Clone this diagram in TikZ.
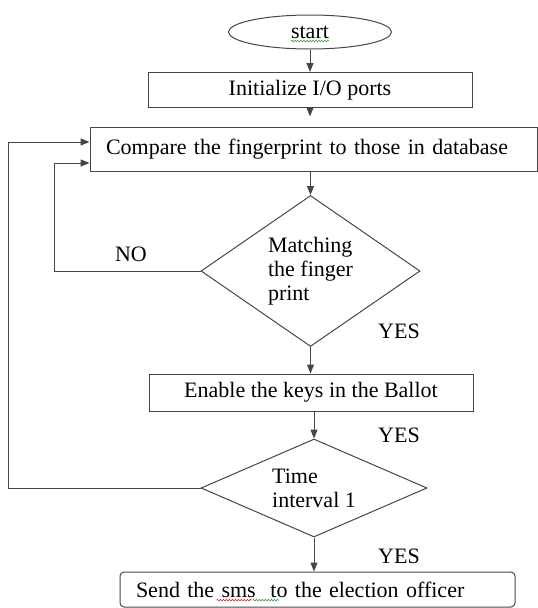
\documentclass[tikz,border=0pt]{standalone}
\usepackage{fontspec}
\setmainfont{Liberation Serif}
\usetikzlibrary{positioning,arrows.meta,shapes.geometric,decorations.pathmorphing}
\definecolor{lineg}{RGB}{70,70,70}
\definecolor{spellred}{RGB}{220,40,40}
\definecolor{spellgreen}{RGB}{60,160,60}

\begin{document}
\begin{tikzpicture}[x=1pt, y=-1pt, font=\fontsize{22}{24}\selectfont,
    >={Triangle[length=9pt,width=7pt]},
    box/.style={draw=lineg, line width=1pt, inner sep=0pt, align=center},
    oval/.style={ellipse, draw=lineg, line width=1pt, inner sep=0pt,
                 minimum width=163pt, minimum height=34pt},
    test/.style={diamond, draw=lineg, line width=1pt, inner sep=0pt, align=left},
    flow/.style={->, draw=lineg, line width=1pt},
    squig/.style={decorate, decoration={snake, segment length=3pt, amplitude=0.8pt},
                  line width=0.6pt}]
  \useasboundingbox (0,0) rectangle (538,608);
  \node[oval] (start) at (310,32) {start};
  \node[box, minimum width=324pt, minimum height=35pt] (init) at (310,90) {Initialize I/O ports};
  \node[box, minimum width=447pt, minimum height=44pt, text width=415pt,
        inner xsep=16pt, align=left] (cmp) at (313.5,149)
        {Compare the fingerprint to those in database};
  \node[test, minimum width=219pt, minimum height=151pt, aspect=1.45] (match) at (310.5,271)
        {Matching\\the finger\\print};
  \node[box, minimum width=324pt, minimum height=37pt] (ballot) at (311,392.5)
        {Enable the keys in the Ballot};
  \node[test, minimum width=226pt, minimum height=98pt, aspect=2.3] (timer) at (314,488)
        {Time\\interval 1};
  \node[box, rounded corners=4pt, minimum width=395pt, minimum height=35pt, text width=363pt,
        inner xsep=16pt, align=left] (sms) at (317.5,589.5)
        {Send the sms\ \ to the election officer};
  \node (no)   at (131,254) {NO};
  \node (yes1) at (399,331) {YES};
  \node (yes2) at (399,435) {YES};
  \node (yes3) at (399,556) {YES};
  \draw[flow] (start) -- (init);
  \draw[flow, shorten >=10pt] (init.south) -- (init.south |- cmp.north);
  \draw[flow] (match.north |- cmp.south) -- (match.north);
  \draw[flow] (match) -- (ballot.north -| match.south);
  \draw[flow] (timer.north |- ballot.south) -- (timer.north);
  \draw[flow] (timer) -- (timer.south |- sms.north);
  \draw[flow] (match.west) -- ++(-146,0) |- ([yshift=-14pt]cmp.west);
  \draw[flow] (timer.west) -- ++(-192,0) |- ([yshift=7pt]cmp.west);
  % spell-check marks
  \draw[squig, spellgreen] ([xshift=-19pt,yshift=-3pt]start.base) -- ([xshift=19pt,yshift=-3pt]start.base);
  \draw[squig, spellred] ([xshift=97pt,yshift=-3pt]sms.base west) -- ([xshift=132pt,yshift=-3pt]sms.base west);
  \draw[squig, spellgreen] ([xshift=133pt,yshift=-3pt]sms.base west) -- ([xshift=160pt,yshift=-3pt]sms.base west);
\end{tikzpicture}
\end{document}
